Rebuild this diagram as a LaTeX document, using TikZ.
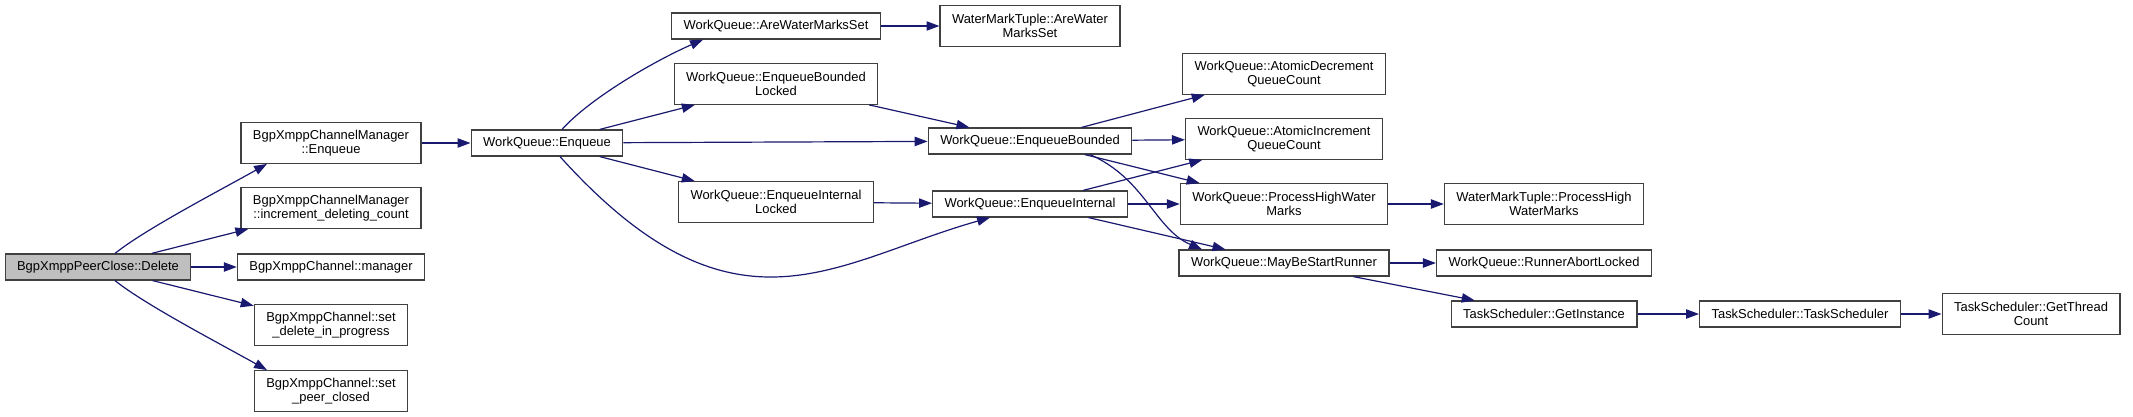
\documentclass[tikz,border=0pt]{standalone}
\usepackage{fontspec}
\setmainfont{Liberation Sans}
\usepackage{tikz}
\usetikzlibrary{arrows.meta, calc}
\definecolor{CGNavy}{RGB}{25,25,112}
\definecolor{CGLine}{RGB}{64,64,64}
\definecolor{CGGray}{RGB}{191,191,191}

\begin{document}
\begin{tikzpicture}[x=0.75pt, y=0.75pt,
      fn/.style={rectangle, draw=CGLine, line width=0.9pt, fill=white,
                 font=\fontsize{9.7}{10.6}\selectfont, align=center,
                 inner xsep=9pt, inner ysep=2pt, minimum height=19.5pt},
      fnw/.style={fn, minimum height=30.5pt},
      call/.style={draw=CGNavy, line width=0.9pt,
                   -{Triangle[length=9.7pt, width=7pt]}}
    ]
    \useasboundingbox (0,0) rectangle (2133,-417);

    % Column 0 — the caller
    \node[fn, fill=CGGray] (del) at (98,-267) {BgpXmppPeerClose::Delete};

    % Column 1 — BgpXmpp callees
    \node[fnw] (bxcEnq)     at (331,-143) {BgpXmppChannelManager\\::Enqueue};
    \node[fnw] (bxcInc)     at (331,-208) {BgpXmppChannelManager\\::increment\_deleting\_count};
    \node[fn]  (bxcMgr)     at (331,-267) {BgpXmppChannel::manager};
    \node[fnw] (bxcSetDel)  at (331,-325) {BgpXmppChannel::set\\\_delete\_in\_progress};
    \node[fnw] (bxcSetPeer) at (331,-391) {BgpXmppChannel::set\\\_peer\_closed};

    % Column 2 and 3 — WorkQueue entry
    \node[fn]  (wqEnq)  at (547,-143) {WorkQueue::Enqueue};
    \node[fn]  (wqAwms) at (776,-26)  {WorkQueue::AreWaterMarksSet};
    \node[fnw] (wqEbl)  at (776,-84)  {WorkQueue::EnqueueBounded\\Locked};
    \node[fnw] (wqEil)  at (776,-202) {WorkQueue::EnqueueInternal\\Locked};

    % Column 4
    \node[fnw] (wmtAwms) at (1030,-26)  {WaterMarkTuple::AreWater\\MarksSet};
    \node[fn]  (wqEb)    at (1030,-141) {WorkQueue::EnqueueBounded};
    \node[fn]  (wqEi)    at (1030,-204) {WorkQueue::EnqueueInternal};

    % Column 5
    \node[fnw] (wqAdec) at (1284,-74)  {WorkQueue::AtomicDecrement\\QueueCount};
    \node[fnw] (wqAinc) at (1284,-139) {WorkQueue::AtomicIncrement\\QueueCount};
    \node[fnw] (wqPhwm) at (1284,-204) {WorkQueue::ProcessHighWater\\Marks};
    \node[fn]  (wqMbsr) at (1284,-263) {WorkQueue::MayBeStartRunner};

    % Column 6 to 8 — TaskScheduler chain
    \node[fnw] (wmtPhwm) at (1544,-204) {WaterMarkTuple::ProcessHigh\\WaterMarks};
    \node[fn]  (wqRal)   at (1544,-263) {WorkQueue::RunnerAbortLocked};
    \node[fn]  (tsInst)  at (1544,-314) {TaskScheduler::GetInstance};
    \node[fn]  (tsCtor)  at (1800,-314) {TaskScheduler::TaskScheduler};
    \node[fnw] (tsThr)   at (2031,-314) {TaskScheduler::GetThread\\Count};

    % Straight calls
    \foreach \a/\b in {del/bxcInc, del/bxcMgr, del/bxcSetDel, bxcEnq/wqEnq,
                       wqEnq/wqEbl, wqEnq/wqEb, wqEnq/wqEil, wqAwms/wmtAwms,
                       wqEbl/wqEb, wqEil/wqEi, wqEb/wqAdec, wqEb/wqAinc,
                       wqEb/wqPhwm, wqEi/wqAinc, wqEi/wqPhwm, wqEi/wqMbsr,
                       wqPhwm/wmtPhwm, wqMbsr/wqRal, wqMbsr/tsInst,
                       tsInst/tsCtor, tsCtor/tsThr}
      \draw[call] (\a) -- (\b);

    % Curved calls
    \draw[call] ($(del.north)+(17,0)$) .. controls +(30,24) and +(-50,-28)
          .. ($(bxcEnq.south)+(-64,0)$);
    \draw[call] ($(del.south)+(17,0)$) .. controls +(30,-24) and +(-50,28)
          .. ($(bxcSetPeer.north)+(-64,0)$);
    \draw[call] ($(wqEnq.north)+(15,0)$) .. controls +(28,31) and +(-50,-22)
          .. ($(wqAwms.south)+(-73,0)$);
    \draw[call] ($(wqEnq.south)+(13,0)$) .. controls +(175,-194) and +(-156,-44)
          .. ($(wqEi.south)+(-40,0)$);
    \draw[call] ($(wqEb.south)+(60,0)$) .. controls +(55,-24) and +(-47,20)
          .. ($(wqMbsr.north)+(-82,0)$);
  \end{tikzpicture}
\end{document}
